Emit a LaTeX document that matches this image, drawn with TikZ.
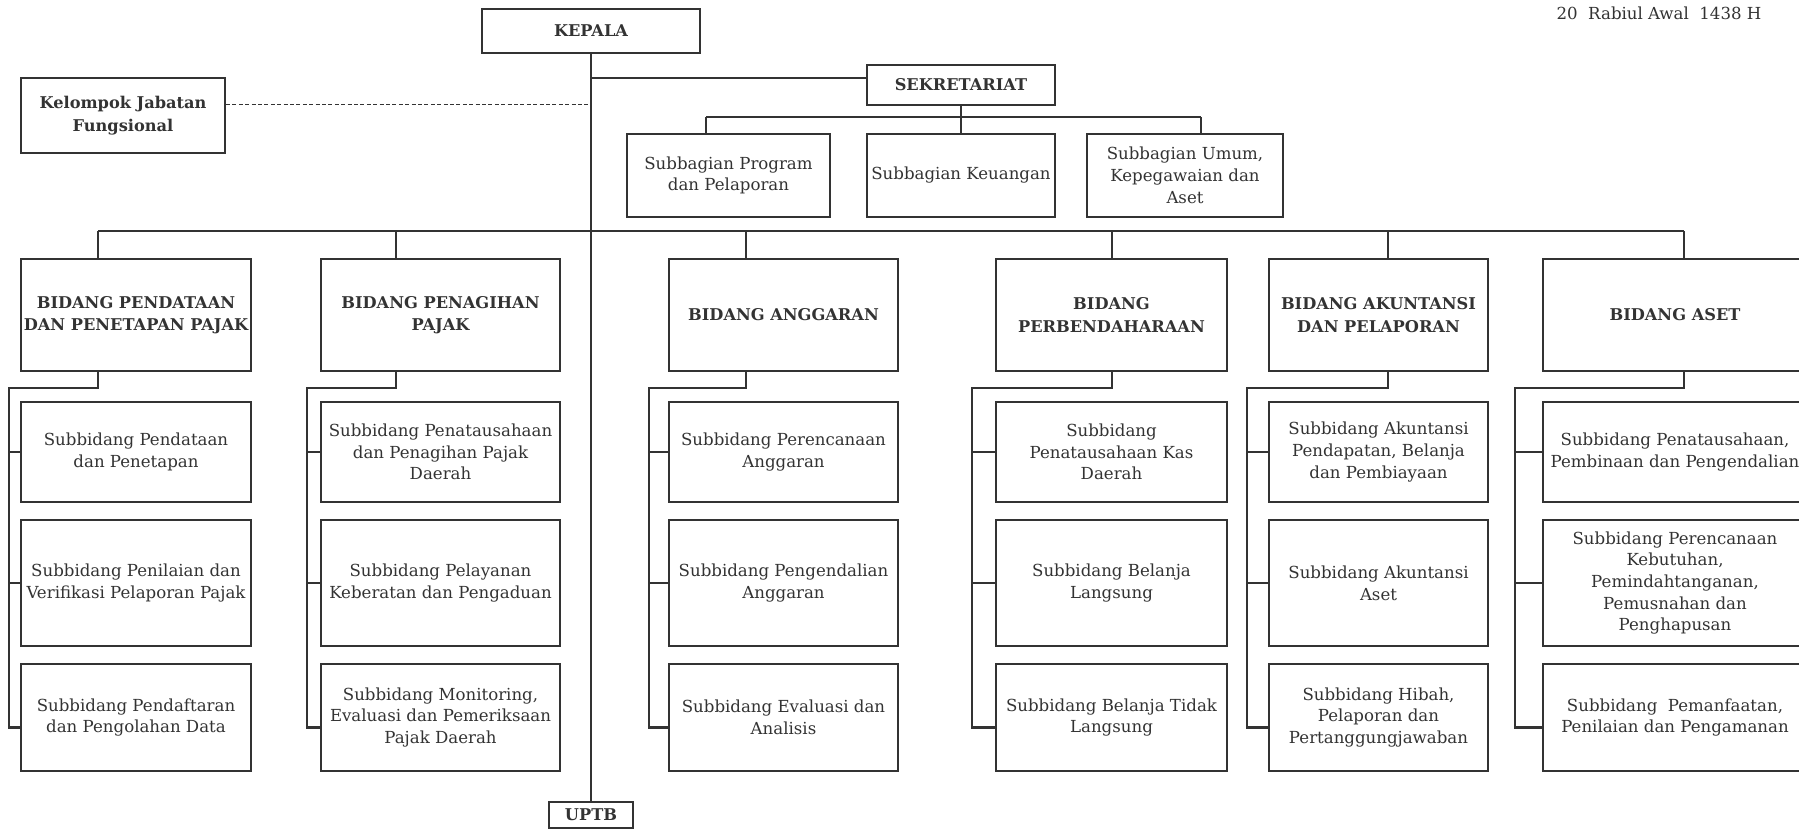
\documentclass[tikz,border=0pt]{standalone}
\usepackage{fontspec}
\setmainfont{DejaVu Serif}
\usetikzlibrary{calc}
\definecolor{ink}{HTML}{333333}
\begin{document}
\begin{tikzpicture}[x=0.5pt,y=-0.5pt,
  box/.style={draw=ink, line width=1pt, inner sep=0pt, align=center, text=ink},
  reg/.style={font=\fontsize{8.3}{10.85}\selectfont},
  bld/.style={font=\fontsize{8.1}{11.3}\selectfont\bfseries},
  bid/.style={box,bld,minimum height=56pt},
  rowa/.style={box,reg,minimum height=50pt},
  rowb/.style={box,reg,minimum height=63pt},
  rowc/.style={box,reg,minimum height=53.5pt},
  conn/.style={draw=ink, line width=1.3pt},
  dashline/.style={draw=ink, line width=0.5pt, dash pattern=on 2pt off 1.2pt}]
\clip (0,0) rectangle (1799,830);
\fill[white] (0,0) rectangle (1799,830);

% top level
\node[box,bld,minimum width=109pt,minimum height=22pt] (kepala) at (591,31) {KEPALA};
\node[box,bld,minimum width=94pt,minimum height=20pt] (sek) at (961,85) {SEKRETARIAT};
\node[box,bld,minimum width=102pt,minimum height=37.5pt] (kjf) at (123,115.5) {Kelompok Jabatan\\Fungsional};
\node[box,bld,minimum width=42pt,minimum height=13pt] (uptb) at (591,815) {UPTB};
\node[reg,text=ink] (date) at (1659,13) {20\ \ Rabiul Awal\ \ 1438 H};

% secretariat sub units
\node[box,reg,minimum width=101.5pt,minimum height=41.5pt] (sp) at (728.5,175.5) {Subbagian Program\\dan Pelaporan};
\node[box,reg,minimum width=94pt,minimum height=41.5pt] (sk) at (961,175.5) {Subbagian Keuangan};
\node[box,reg,minimum width=98pt,minimum height=41.5pt] (su) at (1185,175.5) {Subbagian Umum,\\Kepegawaian dan\\Aset};

% column 1
\node[bid,minimum width=115pt] (b1) at (136,315) {BIDANG PENDATAAN\\DAN PENETAPAN PAJAK};
\node[rowa,minimum width=115pt] (sa1) at (136,452) {Subbidang Pendataan\\dan Penetapan};
\node[rowb,minimum width=115pt] (sb1) at (136,583) {Subbidang Penilaian dan\\Verifikasi Pelaporan Pajak};
\node[rowc,minimum width=115pt] (sc1) at (136,717.5) {Subbidang Pendaftaran\\dan Pengolahan Data};
% column 2
\node[bid,minimum width=119.5pt] (b2) at (440.5,315) {BIDANG PENAGIHAN\\PAJAK};
\node[rowa,minimum width=119.5pt] (sa2) at (440.5,452) {Subbidang Penatausahaan\\dan Penagihan Pajak\\Daerah};
\node[rowb,minimum width=119.5pt] (sb2) at (440.5,583) {Subbidang Pelayanan\\Keberatan dan Pengaduan};
\node[rowc,minimum width=119.5pt] (sc2) at (440.5,717.5) {Subbidang Monitoring,\\Evaluasi dan Pemeriksaan\\Pajak Daerah};
% column 3
\node[bid,minimum width=114.5pt] (b3) at (783.5,315) {BIDANG ANGGARAN};
\node[rowa,minimum width=114.5pt] (sa3) at (783.5,452) {Subbidang Perencanaan\\Anggaran};
\node[rowb,minimum width=114.5pt] (sb3) at (783.5,583) {Subbidang Pengendalian\\Anggaran};
\node[rowc,minimum width=114.5pt] (sc3) at (783.5,717.5) {Subbidang Evaluasi dan\\Analisis};
% column 4
\node[bid,minimum width=115.5pt] (b4) at (1111.5,315) {BIDANG\\PERBENDAHARAAN};
\node[rowa,minimum width=115.5pt] (sa4) at (1111.5,452) {Subbidang\\Penatausahaan Kas\\Daerah};
\node[rowb,minimum width=115.5pt] (sb4) at (1111.5,583) {Subbidang Belanja\\Langsung};
\node[rowc,minimum width=115.5pt] (sc4) at (1111.5,717.5) {Subbidang Belanja Tidak\\Langsung};
% column 5
\node[bid,minimum width=109.5pt] (b5) at (1378.5,315) {BIDANG AKUNTANSI\\DAN PELAPORAN};
\node[rowa,minimum width=109.5pt] (sa5) at (1378.5,452) {Subbidang Akuntansi\\Pendapatan, Belanja\\dan Pembiayaan};
\node[rowb,minimum width=109.5pt] (sb5) at (1378.5,583) {Subbidang Akuntansi\\Aset};
\node[rowc,minimum width=109.5pt] (sc5) at (1378.5,717.5) {Subbidang Hibah,\\Pelaporan dan\\Pertanggungjawaban};
% column 6
\node[bid,minimum width=132pt] (b6) at (1675,315) {BIDANG ASET};
\node[rowa,minimum width=132pt] (sa6) at (1675,452) {Subbidang Penatausahaan,\\Pembinaan dan Pengendalian};
\node[rowb,minimum width=132pt] (sb6) at (1675,583) {Subbidang Perencanaan\\Kebutuhan,\\Pemindahtanganan,\\Pemusnahan dan\\Penghapusan};
\node[rowc,minimum width=132pt] (sc6) at (1675,717.5) {Subbidang\ \ Pemanfaatan,\\Penilaian dan Pengamanan};

% main spine
\draw[conn] (kepala.south) -- (uptb.north);
\coordinate (jsek) at (591,78);
\draw[conn] (jsek) -- (jsek -| sek.west);
\coordinate (jkjf) at (591,104);
\draw[dashline] (kjf.east |- jkjf) -- (jkjf);

% secretariat bus
\coordinate (sbl) at (706,117);
\coordinate (sbr) at (1201,117);
\draw[conn] (sek.south) -- (sek.south |- sbl);
\draw[conn] (sbl) -- (sbr);
\draw[conn] (sbl) -- (sbl |- sp.north);
\draw[conn] (sek.south |- sbl) -- (sk.north);
\draw[conn] (sbr) -- (sbr |- su.north);

% bidang bus and subbidang spines
\foreach \c/\d/\s in {1/98/9,2/396/307,3/746/649,4/1112/972,5/1388/1247,6/1684/1515} {
  \coordinate (t\c) at (\d,231);
  \coordinate (k\c) at (\d,388);
  \coordinate (v\c) at (\s,388);
  \coordinate (e\c) at ($(sc\c.west)+(0,10)$);
  \draw[conn] (t\c) -- (t\c |- b\c.north);
  \draw[conn] (t\c |- b\c.south) -- (k\c) -- (v\c) -- (v\c |- e\c) -- (e\c);
  \draw[conn] (v\c |- sa\c.west) -- (sa\c.west);
  \draw[conn] (v\c |- sb\c.west) -- (sb\c.west);
}
\draw[conn] (t1) -- (t6);
\end{tikzpicture}
\end{document}
